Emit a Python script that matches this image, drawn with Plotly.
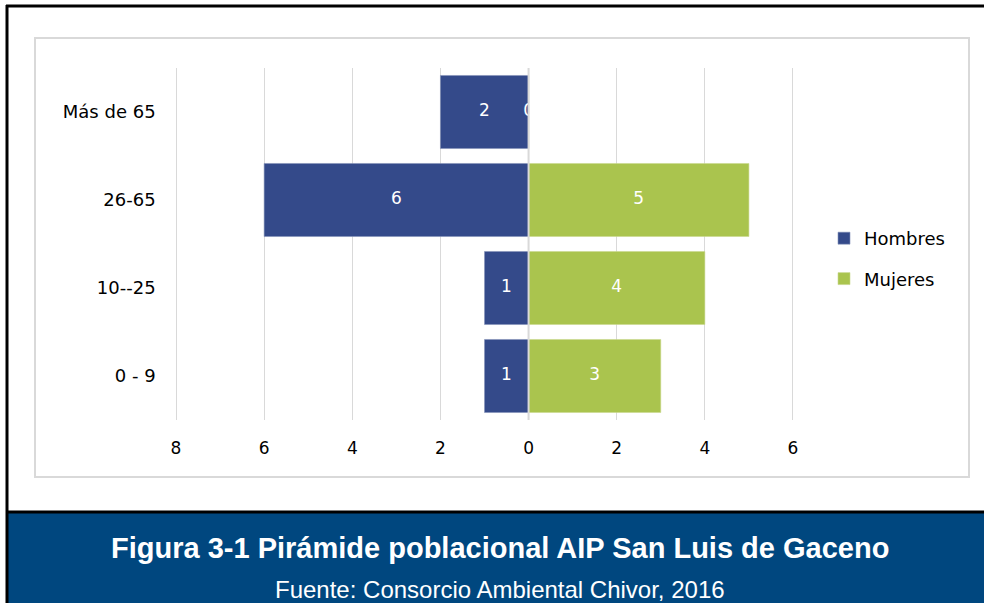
import plotly.graph_objects as go

categories = ["0 - 9", "10--25", "26-65", "Más de 65"]
hombres = [1, 1, 6, 2]
mujeres = [3, 4, 5, 0]
tick_vals = [-8, -6, -4, -2, 0, 2, 4, 6]
tick_text = ["8", "6", "4", "2", "0", "2", "4", "6"]

W, H = 984, 603
C_H = "#344A8A"
C_M = "#AAC44E"
FONT = "DejaVu Sans"

def py(p):
    return 1 - p / H

def px(p):
    return p / W

fig = go.Figure()
fig.add_trace(go.Bar(
    y=categories, x=[-v for v in hombres], orientation="h", name="Hombres",
    marker=dict(color=C_H, line=dict(color="#8592B8", width=0.6)),
    legendgroup="h", hoverinfo="skip"))
fig.add_trace(go.Bar(
    y=categories, x=mujeres, orientation="h", name="Mujeres",
    marker=dict(color=C_M, line=dict(color="#C9D98F", width=0.6)),
    legendgroup="m", hoverinfo="skip"))
# data labels
fig.add_trace(go.Scatter(
    y=categories, x=[-v / 2 for v in hombres], mode="text",
    text=[str(v) for v in hombres], textposition="middle center",
    textfont=dict(color="white", size=17, family=FONT),
    showlegend=False, hoverinfo="skip", cliponaxis=False))
fig.add_trace(go.Scatter(
    y=categories, x=[v / 2 for v in mujeres], mode="text",
    text=[str(v) for v in mujeres], textposition="middle center",
    textfont=dict(color="white", size=17, family=FONT),
    showlegend=False, hoverinfo="skip", cliponaxis=False))

shapes = [
    # banner
    dict(type="rect", xref="paper", yref="paper", x0=px(7), x1=px(990), y0=py(512), y1=py(606),
         line=dict(width=0), fillcolor="#00477F", layer="below"),
    # outer black frame
    dict(type="line", xref="paper", yref="paper", x0=px(6), x1=px(990), y0=py(6), y1=py(6),
         line=dict(color="black", width=3), layer="below"),
    dict(type="line", xref="paper", yref="paper", x0=px(7), x1=px(7), y0=py(5), y1=py(606),
         line=dict(color="black", width=3), layer="below"),
    dict(type="line", xref="paper", yref="paper", x0=px(6), x1=px(990), y0=py(512), y1=py(512),
         line=dict(color="black", width=3), layer="below"),
    # inner chart box
    dict(type="rect", xref="paper", yref="paper", x0=px(35), x1=px(969), y0=py(38), y1=py(477),
         line=dict(color="#D9D9D9", width=2), fillcolor="white", layer="below"),
    # zero axis line
    dict(type="line", xref="x", yref="y domain", x0=0, x1=0, y0=0, y1=1,
         line=dict(color="#D9D9D9", width=2), layer="above"),
]

annotations = [
    dict(text="<b>Figura 3-1 Pirámide poblacional AIP San Luis de Gaceno</b>",
         xref="paper", yref="paper", x=px(500), y=py(548), xanchor="center", yanchor="middle",
         showarrow=False, font=dict(family="Liberation Sans, Arial", size=29, color="white")),
    dict(text="Fuente: Consorcio Ambiental Chivor, 2016",
         xref="paper", yref="paper", x=px(500), y=py(589), xanchor="center", yanchor="middle",
         showarrow=False, font=dict(family="Liberation Sans, Arial", size=24, color="white")),
]

fig.update_layout(
    width=W, height=H, autosize=False,
    margin=dict(l=0, r=0, t=0, b=0, pad=0, autoexpand=False),
    paper_bgcolor="white", plot_bgcolor="rgba(0,0,0,0)",
    barmode="relative", bargap=0.17,
    font=dict(family=FONT, size=18, color="black"),
    shapes=shapes, annotations=annotations,
    legend=dict(x=px(824), y=py(258.5), xanchor="left", yanchor="middle",
                font=dict(family=FONT, size=18, color="black"),
                tracegroupgap=14, bgcolor="rgba(0,0,0,0)"),
    xaxis=dict(domain=[px(171.6), px(797.4)], range=[-8.1, 6.1], tickvals=tick_vals, ticktext=tick_text,
               showgrid=True, gridcolor="#D9D9D9", gridwidth=1, zeroline=False,
               showline=False, ticks="", ticklabelstandoff=16, automargin=False,
               tickfont=dict(family=FONT, size=17, color="black"), fixedrange=True),
    yaxis=dict(domain=[py(420), py(68)], type="category", categoryorder="array",
               categoryarray=categories, showgrid=False, zeroline=False, showline=False,
               ticks="", ticklabelstandoff=15, automargin=False,
               tickfont=dict(family=FONT, size=18, color="black"), fixedrange=True),
)

fig.write_html("out.html",
               config={"displayModeBar": False, "responsive": False, "staticPlot": True},
               post_script="document.body.style.margin='0';document.body.style.overflow='hidden';")
